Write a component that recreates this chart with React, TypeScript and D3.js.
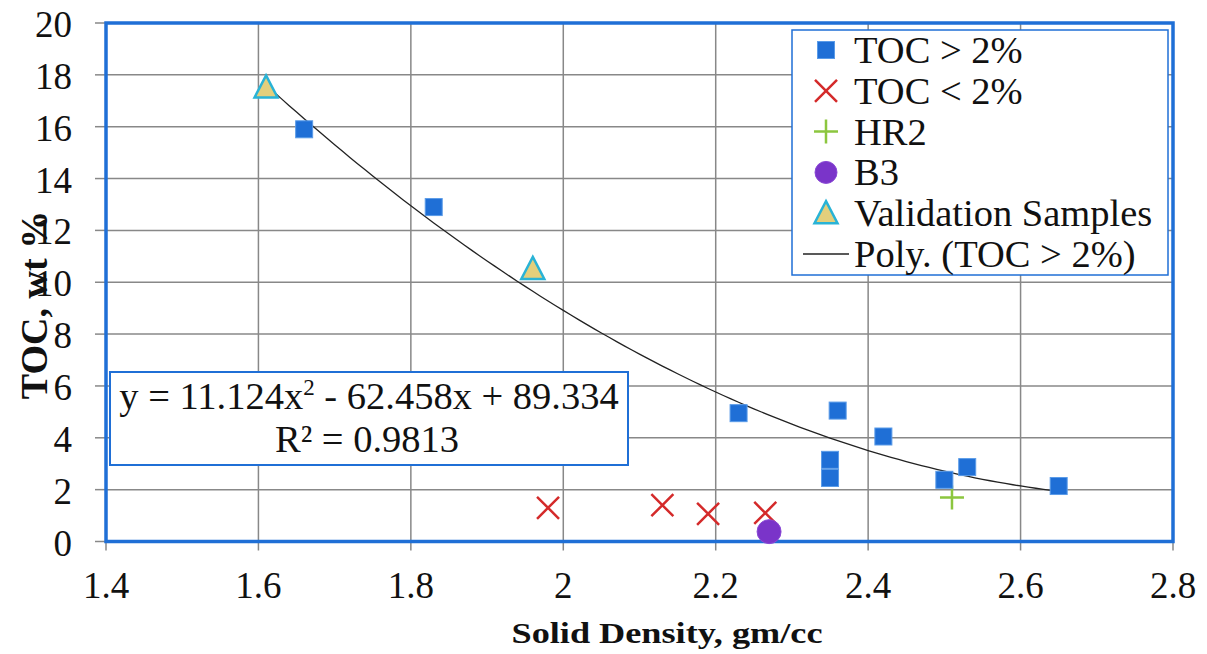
import React from "react";
import * as d3 from "d3";

const tocHigh: [number, number][] = [
  [1.66, 15.9], [1.83, 12.9], [2.23, 4.95], [2.36, 5.05], [2.35, 3.15],
  [2.35, 2.45], [2.42, 4.05], [2.5, 2.38], [2.53, 2.87], [2.65, 2.14],
];
const tocLow: [number, number][] = [
  [1.98, 1.3], [2.13, 1.4], [2.19, 1.07], [2.265, 1.1],
];
const hr2: [number, number][] = [[2.51, 1.7]];
const b3: [number, number][] = [[2.27, 0.38]];
const validation: [number, number][] = [[1.61, 17.4], [1.96, 10.4]];
const polyCoef = [11.124, -62.458, 89.334];
const xTicks = [1.4, 1.6, 1.8, 2, 2.2, 2.4, 2.6, 2.8];
const yTicks = [0, 2, 4, 6, 8, 10, 12, 14, 16, 18, 20];
const legendLabels = ["TOC > 2%", "TOC < 2%", "HR2", "B3", "Validation Samples", "Poly. (TOC > 2%)"];

const FONT = '"Liberation Serif"';
const BLUE = "#1f6fd6";
const RED = "#d42a2a";
const GREEN = "#8cc63f";
const PURPLE = "#7a34c9";
const TRI_FILL = "#e3cf7c";
const TRI_STROKE = "#29b3d6";

const txt: React.CSSProperties = { fontFamily: FONT };

export default function App() {
  const L = 106, R = 1173, T = 23, B = 541.5;
  const x = d3.scaleLinear().domain([1.4, 2.8]).range([L, R]);
  const y = d3.scaleLinear().domain([0, 20]).range([B, T]);

  const xs = d3.range(1.61, 2.6501, 0.01);
  const line = d3.line<number>()
    .x((v) => x(v))
    .y((v) => y(polyCoef[0] * v * v + polyCoef[1] * v + polyCoef[2]))
    .curve(d3.curveMonotoneX);

  const square = (cx: number, cy: number, k: string) => (
    <rect key={k} x={cx - 8.5} y={cy - 8.5} width={17} height={17} fill={BLUE} stroke="#5a9be8" strokeWidth={1} />
  );
  const cross = (cx: number, cy: number, k: string) => (
    <path key={k} d={`M${cx - 11},${cy - 11}L${cx + 11},${cy + 11}M${cx - 11},${cy + 11}L${cx + 11},${cy - 11}`} stroke={RED} strokeWidth={2.5} />
  );
  const plus = (cx: number, cy: number, k: string) => (
    <path key={k} d={`M${cx - 12},${cy}L${cx + 12},${cy}M${cx},${cy - 12}L${cx},${cy + 12}`} stroke={GREEN} strokeWidth={2.5} />
  );
  const circle = (cx: number, cy: number, r: number, k: string) => (
    <circle key={k} cx={cx} cy={cy} r={r} fill={PURPLE} stroke="#8a4ad6" strokeWidth={1} />
  );
  const tri = (cx: number, cy: number, k: string) => (
    <path key={k} d={`M${cx},${cy - 15}L${cx + 11.5},${cy + 7}L${cx - 11.5},${cy + 7}Z`} fill={TRI_FILL} stroke={TRI_STROKE} strokeWidth={2.5} strokeLinejoin="miter" />
  );

  const legendX = 792, legendY = 30, legendW = 376, legendH = 245;
  const baseY = (i: number) => 63 + i * 40.8;
  const markerX = 826;

  const legendMarkers = [
    square(markerX, baseY(0) - 13, "l0"),
    cross(markerX, baseY(1) - 13, "l1"),
    plus(markerX, baseY(2) - 13, "l2"),
    circle(markerX, baseY(3) - 13, 11, "l3"),
    tri(markerX, baseY(4) - 10, "l4"),
    <line key="l5" x1={803} x2={849} y1={baseY(5) - 13} y2={baseY(5) - 13} stroke="#222" strokeWidth={1.5} />,
  ];

  return (
    <svg width={1207} height={654} style={{ position: "absolute", left: 0, top: 0, background: "#fff", fontFamily: FONT }}>
      <rect width={1207} height={654} fill="#fff" />
      {xTicks.slice(1, -1).map((t) => (
        <line key={"gx" + t} x1={x(t)} x2={x(t)} y1={T} y2={B} stroke="#888" strokeWidth={1.5} />
      ))}
      {yTicks.slice(1, -1).map((t) => (
        <line key={"gy" + t} x1={L} x2={R} y1={y(t)} y2={y(t)} stroke="#888" strokeWidth={1.5} />
      ))}
      {xTicks.map((t) => (
        <line key={"tx" + t} x1={x(t)} x2={x(t)} y1={B} y2={B + 9} stroke="#888" strokeWidth={1.5} />
      ))}
      {yTicks.map((t) => (
        <line key={"ty" + t} x1={L - 11} x2={L} y1={y(t)} y2={y(t)} stroke="#888" strokeWidth={1.5} />
      ))}
      <rect x={L} y={T} width={R - L} height={B - T} fill="none" stroke={BLUE} strokeWidth={3.5} />
      {xTicks.map((t) => (
        <text key={"lx" + t} x={x(t)} y={598} fontSize={37} textAnchor="middle" fill="#111" style={txt}>{String(t)}</text>
      ))}
      {yTicks.map((t) => (
        <text key={"ly" + t} x={72} y={y(t) + 14} fontSize={37} textAnchor="end" fill="#111" style={txt}>{String(t)}</text>
      ))}
      <text x={667} y={643} fontSize={30} fontWeight="bold" textAnchor="middle" fill="#111" style={txt}
        textLength={311} lengthAdjust="spacingAndGlyphs">Solid Density, gm/cc</text>
      <text transform={`translate(47,305) rotate(-90)`} fontSize={38} fontWeight="bold" textAnchor="middle" fill="#111" style={txt}>TOC, wt %</text>
      <path d={line(xs) || ""} fill="none" stroke="#222" strokeWidth={1.3} />
      {tocLow.map(([a, b], i) => cross(x(a), y(b), "c" + i))}
      {hr2.map(([a, b], i) => plus(x(a), y(b), "p" + i))}
      {b3.map(([a, b], i) => circle(x(a), y(b), 12, "b" + i))}
      {tocHigh.map(([a, b], i) => square(x(a), y(b), "s" + i))}
      {validation.map(([a, b], i) => tri(x(a), y(b), "t" + i))}
      <rect x={110} y={372} width={518} height={93} fill="#fff" stroke={BLUE} strokeWidth={2} />
      <text x={369} y={409} fontSize={38.5} textAnchor="middle" fill="#111" style={txt}>
        y = 11.124x<tspan fontSize={23} dy={-14}>2</tspan><tspan dy={14}> - 62.458x + 89.334</tspan>
      </text>
      <text x={367} y={452} fontSize={38.5} textAnchor="middle" fill="#111" style={txt}>R² = 0.9813</text>
      <rect x={legendX} y={legendY} width={legendW} height={legendH} fill="#fff" stroke={BLUE} strokeWidth={1.5} />
      {legendMarkers}
      {legendLabels.map((s, i) => (
        <text key={"lt" + i} x={854} y={baseY(i)} fontSize={38.5} fill="#111" style={txt}>{s}</text>
      ))}
    </svg>
  );
}
